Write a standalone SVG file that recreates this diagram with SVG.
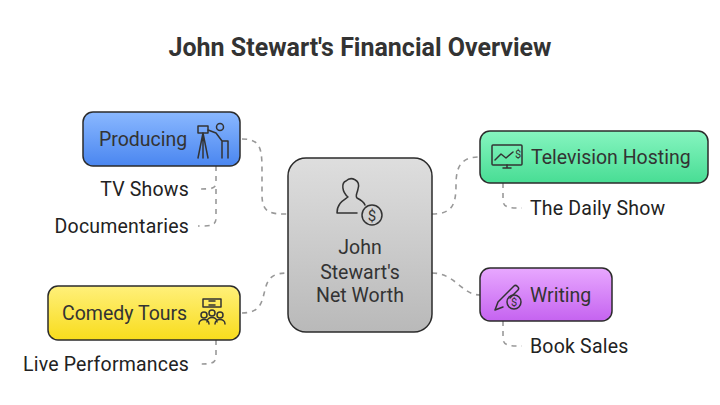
<svg xmlns="http://www.w3.org/2000/svg" width="720" height="405" viewBox="0 0 720 405">
<defs>
<linearGradient id="gC" x1="0" y1="0" x2="0" y2="1"><stop offset="0" stop-color="#dedede"/><stop offset="1" stop-color="#b9b9b9"/></linearGradient>
<linearGradient id="gB" x1="0" y1="0" x2="0" y2="1"><stop offset="0" stop-color="#8ab8ff"/><stop offset="1" stop-color="#4a86f0"/></linearGradient>
<linearGradient id="gY" x1="0" y1="0" x2="0" y2="1"><stop offset="0" stop-color="#fff07a"/><stop offset="1" stop-color="#f8dc1c"/></linearGradient>
<linearGradient id="gG" x1="0" y1="0" x2="0" y2="1"><stop offset="0" stop-color="#86f5c0"/><stop offset="1" stop-color="#48dd94"/></linearGradient>
<linearGradient id="gP" x1="0" y1="0" x2="0" y2="1"><stop offset="0" stop-color="#e8a8ff"/><stop offset="1" stop-color="#c563f0"/></linearGradient>
</defs>
<style>
.n{stroke:#2b2b2b;stroke-width:1.5}
.t{font-family:Roboto,"Liberation Sans",sans-serif;font-size:19.5px;fill:#333}
.s{font-family:Roboto,"Liberation Sans",sans-serif;font-size:19.5px;letter-spacing:0.2px;fill:#222}
.c{fill:none;stroke:#999;stroke-width:1.6;stroke-dasharray:5,5}
.i{fill:none;stroke:#333;stroke-width:1.5;stroke-linecap:round;stroke-linejoin:round}
</style>
<rect width="720" height="405" fill="#fff"/>
<text x="360" y="56" text-anchor="middle" font-family="Roboto,'Liberation Sans',sans-serif" font-size="25" font-weight="bold" fill="#333">John Stewart's Financial Overview</text>
<g id="connectors">
<path class="c" d="M242,139 C262,139 262,150 262,175 L262,195 C262,214 272,214 288,214"/>
<path class="c" d="M242,313 C262,313 262,300 265,290 C268,276 275,273 288,273"/>
<path class="c" d="M432,214 C452,214 456,205 456,185 C456,165 462,157 480,157"/>
<path class="c" d="M432,273 C455,273 462,295 480,295"/>
<path class="c" d="M216,166 L216,182 C216,189 212,189 198,189"/>
<path class="c" d="M216,189 L216,218 C216,226 210,226 198,226"/>
<path class="c" d="M216,340 L216,356 C216,364 210,364 198,364"/>
<path class="c" d="M503,183 L503,200 C503,208 510,208 522,208"/>
<path class="c" d="M503,321 L503,338 C503,346 510,346 522,346"/>
</g>
<g id="center">
<rect class="n" x="288" y="158" width="144" height="174" rx="18" fill="url(#gC)"/>
<path class="i" d="M357,213 L337,213 C337,203 344,200 348,197 C342,192 341,183 346,181 C351,176 361,180 358,189 C357,194 355,196 357,198 C361,200 364,202 365,205"/>
<circle class="i" cx="372" cy="215" r="10"/>
<text x="372" y="221" text-anchor="middle" font-family="Roboto,'Liberation Sans',sans-serif" font-size="15" fill="#333">$</text>
<text class="t" text-anchor="middle"><tspan x="360" y="254">John</tspan><tspan x="360" y="279">Stewart's</tspan><tspan x="360" y="302">Net Worth</tspan></text>
</g>
<g id="producing">
<rect class="n" x="83" y="112" width="157" height="54" rx="10" fill="url(#gB)"/>
<text class="t" x="99" y="146">Producing</text>
<rect class="i" x="198" y="126" width="10" height="7"/>
<circle class="i" cx="220" cy="127" r="3.5"/>
<path class="i" d="M208,130 L216,133 L222,141 L228,141 L228,158 M203,133 L198,158 M203,133 L203,158 M203,133 L208,158 M222,141 L222,158"/>
</g>
<g id="comedy">
<rect class="n" x="48" y="286" width="192" height="54" rx="10" fill="url(#gY)"/>
<text class="t" x="62" y="320">Comedy Tours</text>
<rect class="i" x="203" y="299" width="18" height="8"/>
<path class="i" d="M209,301 L215,301 M209,305 L215,305"/>
<circle class="i" cx="204" cy="315" r="3"/><circle class="i" cx="212" cy="313" r="3"/><circle class="i" cx="220" cy="315" r="3"/>
<path class="i" d="M199,324 C199,318 209,318 209,324 M207,322 C207,316 217,316 217,322 M215,324 C215,318 225,318 225,324"/>
</g>
<g id="tv">
<rect class="n" x="480" y="131" width="228" height="52" rx="10" fill="url(#gG)"/>
<rect class="i" x="492" y="145" width="30" height="20" rx="1"/>
<path class="i" d="M495,160 L501,154 L506,158 L513,152 M503,168 L511,168 M507,165 L507,168"/>
<text x="515" y="158" font-family="Roboto,'Liberation Sans',sans-serif" font-size="11" fill="#333">$</text>
<text class="t" x="531" y="164">Television Hosting</text>
</g>
<g id="writing">
<rect class="n" x="480" y="268" width="132" height="53" rx="10" fill="url(#gP)"/>
<path class="i" d="M495,310 L498,302 L514,286 C516,284 520,288 518,290 L510,298 M495,310 L503,307"/>
<circle class="i" cx="514" cy="302" r="7"/>
<text x="514" y="306" text-anchor="middle" font-family="Roboto,'Liberation Sans',sans-serif" font-size="11" fill="#333">$</text>
<text class="t" x="530" y="302">Writing</text>
</g>
<g id="labels">
<text class="s" x="189" y="196" text-anchor="end">TV Shows</text>
<text class="s" x="189" y="233" text-anchor="end">Documentaries</text>
<text class="s" x="189" y="371" text-anchor="end">Live Performances</text>
<text class="s" x="530" y="215">The Daily Show</text>
<text class="s" x="530" y="353">Book Sales</text>
</g>
</svg>
